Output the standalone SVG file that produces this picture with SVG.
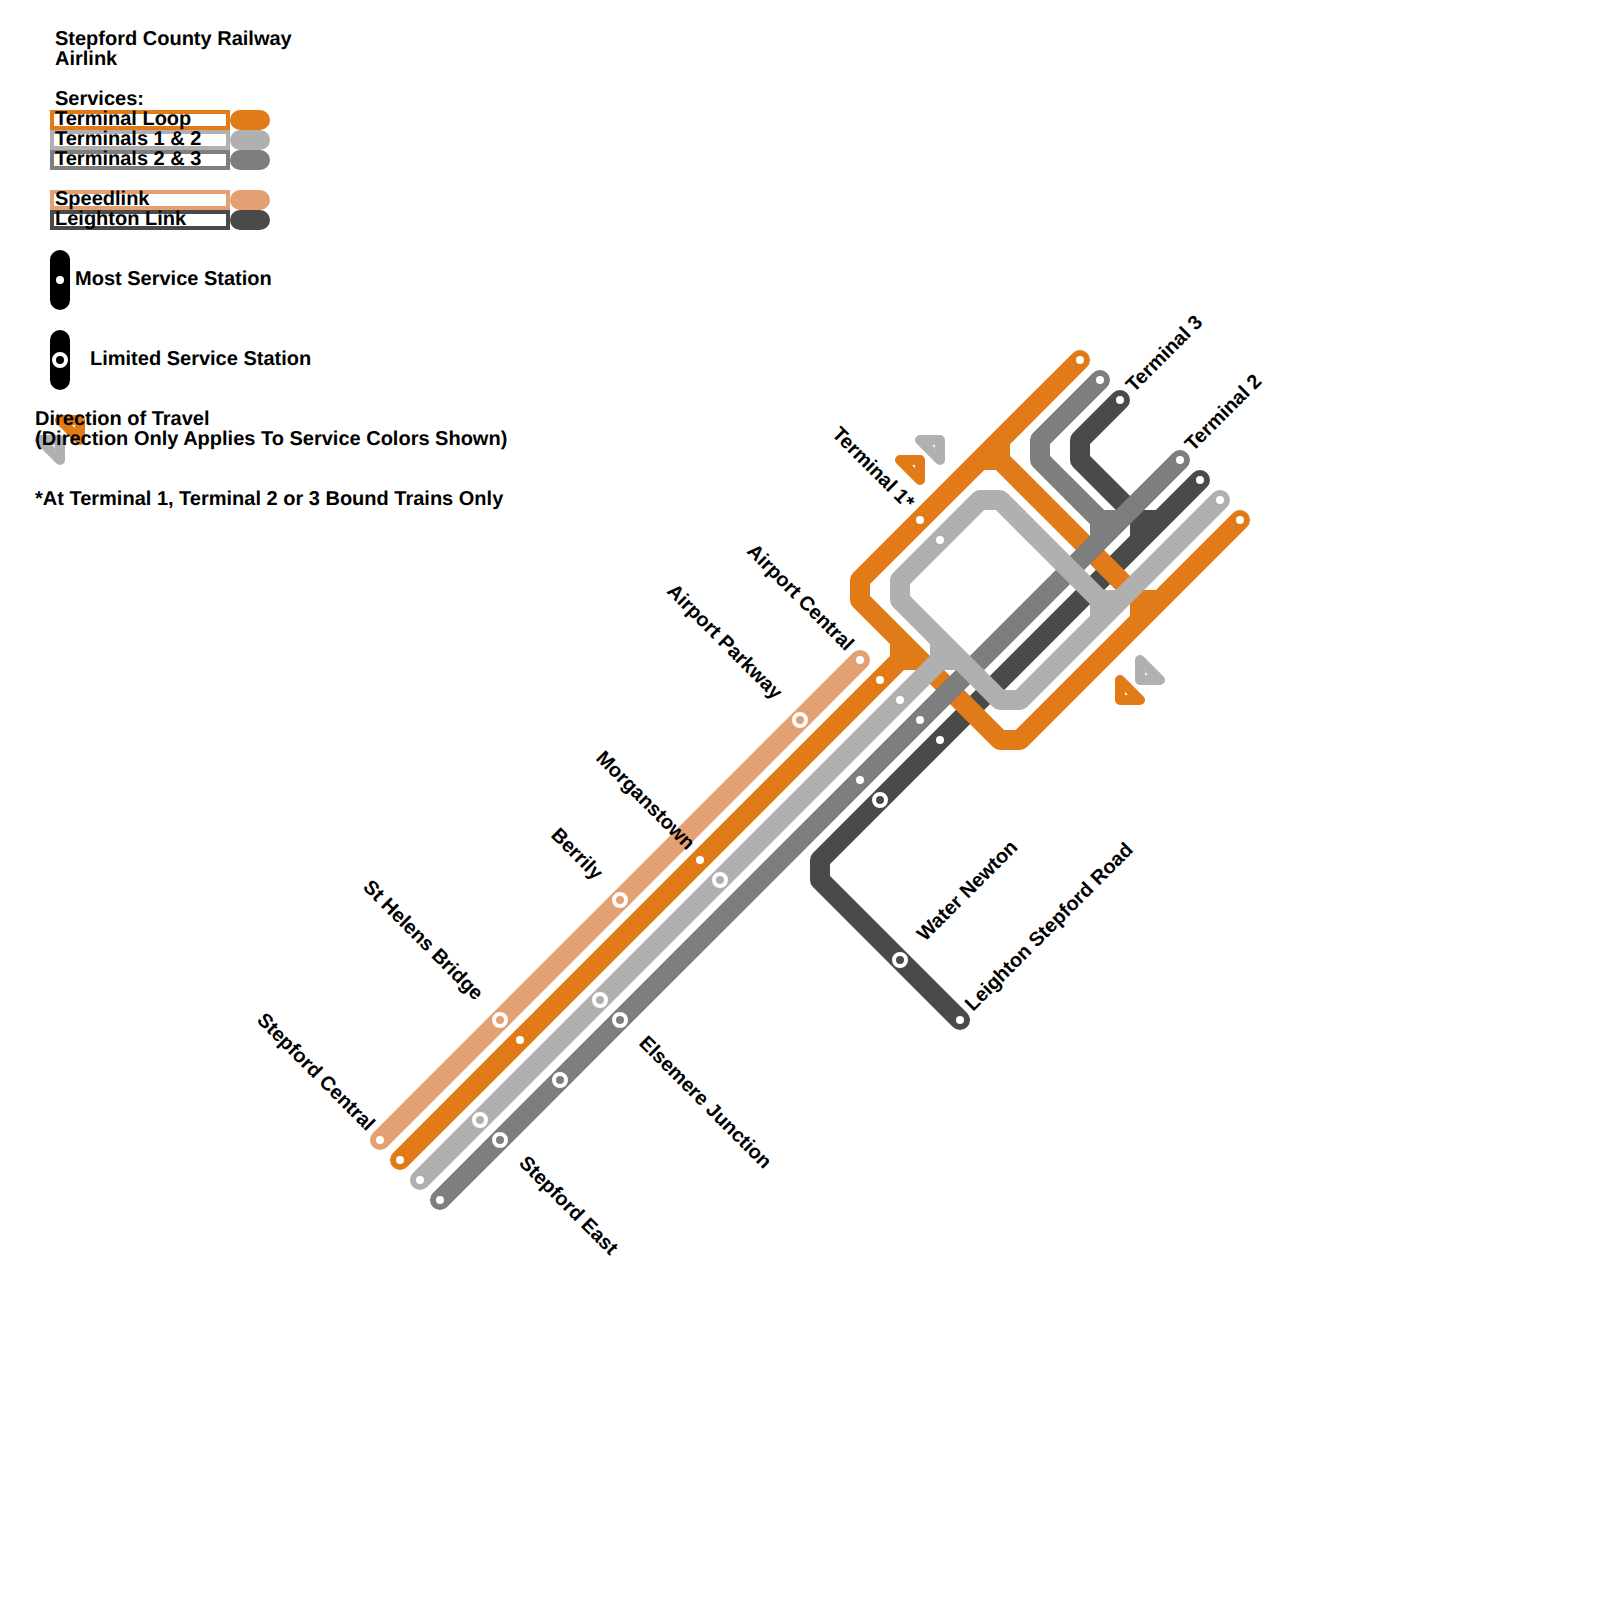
<svg xmlns="http://www.w3.org/2000/svg" width="1600" height="1600" viewBox="0 0 1600 1600">
<style>
text{font-family:"Liberation Sans",Arial,sans-serif;font-size:20px;font-weight:bold;fill:#000;text-rendering:geometricPrecision}
.l{fill:none;stroke-width:20;stroke-linecap:round;stroke-linejoin:round}
.o{stroke:#e17b17}.g{stroke:#b0b0b0}.m{stroke:#7e7e7e}.d{stroke:#4a4a4a}.s{stroke:#e3a072}
.t{stroke-width:10;stroke-linejoin:round;fill:none}
.r{fill:#fff;stroke-width:4}
.st{fill:#fff}
.lim{stroke:#fff;stroke-width:4}
</style>
<rect width="1600" height="1600" fill="#fff"/>
<g id="legend">
<rect class="r o" x="52" y="112" width="176" height="16"/>
<rect class="r g" x="52" y="132" width="176" height="16"/>
<rect class="r m" x="52" y="152" width="176" height="16"/>
<rect class="r s" x="52" y="192" width="176" height="16"/>
<rect class="r d" x="52" y="212" width="176" height="16"/>
<rect x="230" y="110" width="40" height="20" rx="10" fill="#e17b17"/>
<rect x="230" y="130" width="40" height="20" rx="10" fill="#b0b0b0"/>
<rect x="230" y="150" width="40" height="20" rx="10" fill="#7e7e7e"/>
<rect x="230" y="190" width="40" height="20" rx="10" fill="#e3a072"/>
<rect x="230" y="210" width="40" height="20" rx="10" fill="#4a4a4a"/>
<rect x="50" y="250" width="20" height="60" rx="10" fill="#000"/>
<circle cx="60" cy="280" r="4" fill="#fff"/>
<rect x="50" y="330" width="20" height="60" rx="10" fill="#000"/>
<circle cx="60" cy="360" r="6" fill="#000" stroke="#fff" stroke-width="4"/>
<path class="t o" d="M60 420H80V440Z"/>
<path class="t g" d="M40 440H60V460Z"/>
</g>
<g id="legend-text">
<text x="55" y="45">Stepford County Railway</text>
<text x="55" y="65">Airlink</text>
<text x="55" y="105">Services:</text>
<text x="55" y="125">Terminal Loop</text>
<text x="55" y="145">Terminals 1 &amp; 2</text>
<text x="55" y="165">Terminals 2 &amp; 3</text>
<text x="55" y="205">Speedlink</text>
<text x="55" y="225">Leighton Link</text>
<text x="75" y="285">Most Service Station</text>
<text x="90" y="365">Limited Service Station</text>
<text x="35" y="425">Direction of Travel</text>
<text x="35" y="445">(Direction Only Applies To Service Colors Shown)</text>
<text x="35" y="505">*At Terminal 1, Terminal 2 or 3 Bound Trains Only</text>
</g>
<g id="connectors">
<path id="line-leighton" class="l d" d="M1120 400L1080 440V460L1140 520V540M1140 520H1160M1200 480L820 860V880L960 1020"/>
<path id="line-speedlink" class="l s" d="M380 1140L860 660"/>
<path id="line-terminal-loop" class="l o" d="M400 1160L900 660V640L860 600V580L1080 360M900 660H920M900 640L1000 740H1020L1240 520M1000 440V460L1140 600V620M1140 600H1160M980 460H1000"/>
<path id="line-t23" class="l m" d="M1100 380L1040 440V460L1100 520V540M1100 520H1120M1180 460L440 1200"/>
<path id="line-t12" class="l g" d="M420 1180L940 660V640M940 660H960M900 600L1000 700H1020L1220 500M1100 620V600L1000 500H980L900 580V600M1100 600H1120"/>
</g>
<g id="direction-markers">
<path class="t o" d="M900 460H920V480Z"/>
<path class="t g" d="M920 440H940V460Z"/>
<path class="t o" d="M1120 680V700H1140Z"/>
<path class="t g" d="M1140 660V680H1160Z"/>
</g>
<g id="stations" class="st">
<circle cx="380" cy="1140" r="4"/><circle cx="860" cy="660" r="4"/>
<circle cx="400" cy="1160" r="4"/><circle cx="520" cy="1040" r="4"/><circle cx="700" cy="860" r="4"/><circle cx="880" cy="680" r="4"/><circle cx="920" cy="520" r="4"/><circle cx="1080" cy="360" r="4"/><circle cx="1240" cy="520" r="4"/>
<circle cx="420" cy="1180" r="4"/><circle cx="900" cy="700" r="4"/><circle cx="940" cy="540" r="4"/><circle cx="1220" cy="500" r="4"/>
<circle cx="440" cy="1200" r="4"/><circle cx="860" cy="780" r="4"/><circle cx="920" cy="720" r="4"/><circle cx="1100" cy="380" r="4"/><circle cx="1180" cy="460" r="4"/>
<circle cx="940" cy="740" r="4"/><circle cx="1200" cy="480" r="4"/><circle cx="1120" cy="400" r="4"/><circle cx="960" cy="1020" r="4"/>
<circle class="lim" style="fill:#e3a072" cx="500" cy="1020" r="6"/><circle class="lim" style="fill:#e3a072" cx="620" cy="900" r="6"/><circle class="lim" style="fill:#e3a072" cx="800" cy="720" r="6"/>
<circle class="lim" style="fill:#b0b0b0" cx="480" cy="1120" r="6"/><circle class="lim" style="fill:#b0b0b0" cx="600" cy="1000" r="6"/><circle class="lim" style="fill:#b0b0b0" cx="720" cy="880" r="6"/>
<circle class="lim" style="fill:#7e7e7e" cx="500" cy="1140" r="6"/><circle class="lim" style="fill:#7e7e7e" cx="560" cy="1080" r="6"/><circle class="lim" style="fill:#7e7e7e" cx="620" cy="1020" r="6"/>
<circle class="lim" style="fill:#4a4a4a" cx="880" cy="800" r="6"/><circle class="lim" style="fill:#4a4a4a" cx="900" cy="960" r="6"/>
</g>
<g id="labels">
<text transform="translate(256 1021) rotate(45)">Stepford Central</text>
<text transform="translate(362 888) rotate(45)">St Helens Bridge</text>
<text transform="translate(550 836) rotate(45)">Berrily</text>
<text transform="translate(595 759) rotate(45)">Morganstown</text>
<text transform="translate(666 592) rotate(45)">Airport Parkway</text>
<text transform="translate(746 552) rotate(45)">Airport Central</text>
<text transform="translate(831 435) rotate(45)">Terminal 1*</text>
<text transform="translate(638 1044) rotate(45)">Elsemere Junction</text>
<text transform="translate(518 1164) rotate(45)">Stepford East</text>
<text transform="translate(925 942) rotate(-45)">Water Newton</text>
<text transform="translate(973 1012) rotate(-45)">Leighton Stepford Road</text>
<text transform="translate(1134 393) rotate(-45)">Terminal 3</text>
<text transform="translate(1193 452) rotate(-45)">Terminal 2</text>
</g>
</svg>
